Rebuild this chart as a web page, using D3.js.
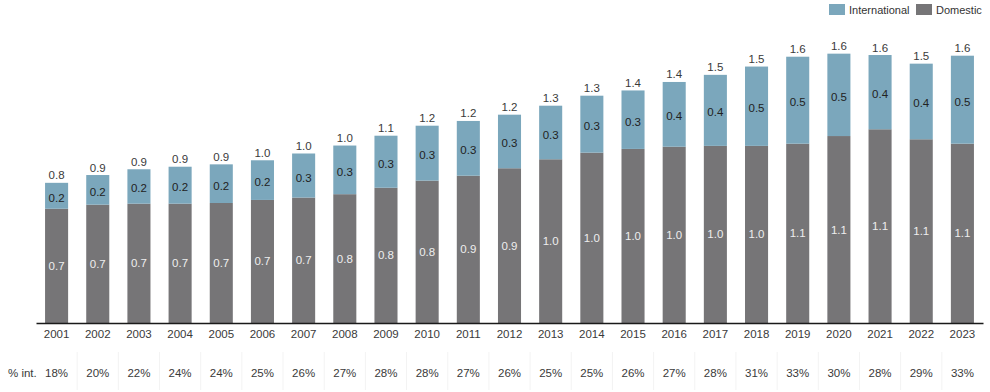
<!DOCTYPE html>
<html>
<head>
<meta charset="utf-8">
<script src="https://cdn.jsdelivr.net/npm/d3@7"></script>
<style>
  html, body { margin: 0; padding: 0; background: #fff; }
  svg { display: block; font-family: "Liberation Sans", Arial, sans-serif; }
</style>
</head>
<body>
<svg id="chart" width="990" height="392"></svg>
<script>
const years = ["2001","2002","2003","2004","2005","2006","2007","2008","2009","2010","2011","2012",
               "2013","2014","2015","2016","2017","2018","2019","2020","2021","2022","2023"];
const domestic = [0.674,0.698,0.704,0.704,0.708,0.726,0.74,0.76,0.798,0.840,0.869,0.913,
                  0.966,1.005,1.027,1.040,1.045,1.045,1.058,1.103,1.143,1.084,1.058];
const international = [0.153,0.175,0.203,0.218,0.228,0.234,0.26,0.287,0.307,0.324,0.323,0.316,
                       0.316,0.336,0.345,0.382,0.419,0.468,0.513,0.486,0.438,0.446,0.519];
const pctInt = ["18%","20%","22%","24%","24%","25%","26%","27%","28%","28%","27%","26%",
                "25%","25%","26%","27%","28%","31%","33%","30%","28%","29%","33%"];
const seriesNames = ["International","Domestic"];
const colors = {International: "#7ba7bc", Domestic: "#767577"};

const svg = d3.select("#chart");
const fmt = d3.format(".1f");

const x = d3.scaleBand().domain(years).range([36, 983]).paddingInner(0.44).paddingOuter(0.22);
const y = d3.scaleLinear().domain([0, 1.6]).range([323, 323 - 1.6 * 169.5]);

const rows = years.map((yr, i) => ({year: yr, Domestic: domestic[i], International: international[i], pct: pctInt[i]}));
const stack = d3.stack().keys(["Domestic","International"])(rows);

// bars
const g = svg.append("g");
stack.forEach(layer => {
  g.selectAll(null).data(layer).enter().append("rect")
    .attr("x", d => x(d.data.year))
    .attr("width", x.bandwidth())
    .attr("y", d => y(d[1]))
    .attr("height", d => y(d[0]) - y(d[1]))
    .attr("fill", colors[layer.key]);
});

// segment labels
const fontSize = "11.5px";
stack.forEach(layer => {
  g.selectAll(null).data(layer).enter().append("text")
    .attr("x", d => x(d.data.year) + x.bandwidth() / 2)
    .attr("y", d => (y(d[0]) + y(d[1])) / 2 + (layer.key === "International" ? 2 : 0))
    .attr("dy", "0.35em")
    .attr("text-anchor", "middle")
    .attr("font-size", fontSize)
    .attr("fill", layer.key === "International" ? "#222" : "#eeeeee")
    .text(d => fmt(d[1] - d[0]));
});

// totals
g.selectAll(null).data(rows).enter().append("text")
  .attr("x", d => x(d.year) + x.bandwidth() / 2)
  .attr("y", d => y(d.Domestic + d.International) - 3.5)
  .attr("text-anchor", "middle")
  .attr("font-size", fontSize)
  .attr("fill", "#3a3a3a")
  .text(d => fmt(d.Domestic + d.International));

// x axis
const xAxis = d3.axisBottom(x).tickSize(0).tickPadding(7);
const ax = svg.append("g").attr("transform", "translate(0,323)").call(xAxis);
ax.select(".domain").attr("stroke", "#1a1a1a").attr("stroke-width", 1.6);
ax.selectAll("text").attr("font-size", fontSize).attr("fill", "#3a3a3a")
  .attr("font-family", "Liberation Sans, Arial, sans-serif");

// % int row
const step = x.step();
svg.selectAll(null).data(years.slice(1)).enter().append("line")
  .attr("x1", d => x(d) - (step - x.bandwidth()) / 2)
  .attr("x2", d => x(d) - (step - x.bandwidth()) / 2)
  .attr("y1", 352).attr("y2", 390)
  .attr("stroke", "#f3f3f3").attr("stroke-width", 1);

svg.append("text").attr("x", 8).attr("y", 377)
  .attr("font-size", fontSize).attr("fill", "#3a3a3a").text("% int.");
svg.selectAll(null).data(rows).enter().append("text")
  .attr("x", d => x(d.year) + x.bandwidth() / 2)
  .attr("y", 377)
  .attr("text-anchor", "middle")
  .attr("font-size", fontSize).attr("fill", "#3a3a3a")
  .text(d => d.pct);

// legend
const legend = [
  {name: seriesNames[0], sx: 829, tx: 849},
  {name: seriesNames[1], sx: 916, tx: 936}
];
const lg = svg.append("g");
legend.forEach(l => {
  lg.append("rect").attr("x", l.sx).attr("y", 4).attr("width", 16).attr("height", 11)
    .attr("fill", colors[l.name]);
  lg.append("text").attr("x", l.tx).attr("y", 14)
    .attr("font-size", "11px").attr("fill", "#333").text(l.name);
});
</script>
</body>
</html>
